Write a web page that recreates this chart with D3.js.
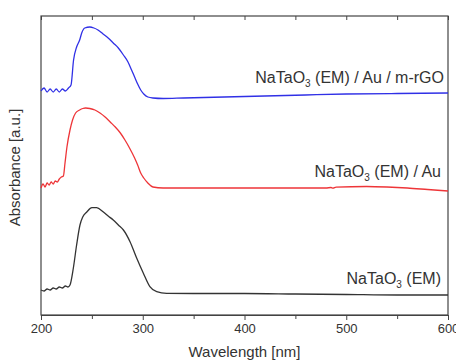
<!DOCTYPE html>
<html>
<head>
<meta charset="utf-8">
<script src="https://cdn.jsdelivr.net/npm/d3@7"></script>
<style>
  body { margin: 0; background: #fff; }
  svg { display: block; font-family: "Liberation Sans", Arial, sans-serif; }
</style>
</head>
<body>
<div id="chart"></div>
<script>
// spectra (absorbance in arbitrary, offset units)
var wlBlue = [200, 203, 206, 209, 212, 215, 218, 221, 224, 227, 229.5, 232, 235, 238, 240, 243, 248, 252, 256, 261, 266, 271, 276, 281, 285.5, 289, 292, 295, 298, 301, 305, 310, 320, 340, 360, 400, 460, 500, 550, 600];
var absBlue = [2.24, 2.27, 2.23, 2.26, 2.23, 2.26, 2.23, 2.26, 2.24, 2.27, 2.30, 2.55, 2.68, 2.75, 2.82, 2.87, 2.88, 2.87, 2.85, 2.81, 2.77, 2.72, 2.67, 2.60, 2.53, 2.45, 2.38, 2.31, 2.25, 2.21, 2.18, 2.17, 2.165, 2.17, 2.175, 2.185, 2.20, 2.21, 2.215, 2.22];

var wlRed = [200, 202, 204, 206, 208, 210, 212, 214, 216, 218, 220, 222, 223.6, 225.5, 228.5, 231, 234, 238, 241, 244, 248, 253, 258, 263, 268, 273, 278, 282.5, 287, 292, 295, 298, 301, 305, 310, 320, 400, 480, 485, 487, 490, 520, 540, 560, 580, 600];
var absRed = [1.27, 1.31, 1.28, 1.32, 1.30, 1.33, 1.31, 1.34, 1.33, 1.36, 1.38, 1.39, 1.52, 1.68, 1.85, 1.95, 2.02, 2.05, 2.065, 2.07, 2.065, 2.05, 2.02, 1.98, 1.93, 1.88, 1.82, 1.75, 1.67, 1.57, 1.50, 1.42, 1.37, 1.32, 1.28, 1.27, 1.27, 1.27, 1.275, 1.268, 1.278, 1.285, 1.28, 1.27, 1.255, 1.24];

var wlBlack = [200, 203, 206, 209, 212, 215, 218, 221, 224, 226.5, 228.5, 231.8, 235, 238.3, 241, 245, 250, 254.7, 261, 266, 271, 276, 281, 287.5, 294, 300.5, 307, 313.7, 323.5, 350, 400, 450, 500, 550, 600];
var absBlack = [0.25, 0.24, 0.26, 0.25, 0.27, 0.26, 0.28, 0.27, 0.29, 0.28, 0.30, 0.47, 0.70, 0.90, 0.98, 1.03, 1.073, 1.073, 1.033, 0.99, 0.95, 0.90, 0.85, 0.733, 0.57, 0.42, 0.283, 0.233, 0.217, 0.215, 0.215, 0.21, 0.205, 0.20, 0.20];

var seriesNames = ["NaTaO|3| (EM) / Au / m-rGO", "NaTaO|3| (EM) / Au", "NaTaO|3| (EM)"];
var seriesColors = ["#3030e6", "#ee3538", "#333333"];
var labelY = [2.32, 1.38, 0.31];   // label baseline, in data units
var labelRight = [4, 7, 7];
var xTicks = [200, 300, 400, 500, 600];
var xMinor = [250, 350, 450, 550];

var margin = { top: 16, right: 8, bottom: 47, left: 41 },
width = 456 - margin.left - margin.right,
height = 362 - margin.top - margin.bottom;

var svg = d3
.select("#chart")
.append("svg")
.attr("width", 456)
.attr("height", 362)
.append("g")
.attr("transform", "translate(" + margin.left + "," + margin.top + ")");

var x = d3.scaleLinear().domain([200, 600]).range([0, width]);
var y = d3.scaleLinear().domain([0, 2.99]).range([height, 0]);

var axisColor = "#444";

// bottom axis, ticks outward
var bottomAxis = svg.append("g")
.attr("transform", "translate(0," + height + ")")
.call(d3.axisBottom(x).tickValues(xTicks).tickSize(5).tickPadding(4).tickFormat(d3.format("d")));
bottomAxis.selectAll("text").attr("fill", "#333").style("font-size", "13px")
  .style("font-family", "'Liberation Sans', Arial, sans-serif");
svg.append("g")
.attr("transform", "translate(0," + height + ")")
.call(d3.axisBottom(x).tickValues(xMinor).tickSize(4).tickFormat(""))
.select(".domain").remove();

// top axis, ticks inward
var topAxis = svg.append("g")
.call(d3.axisBottom(x).tickValues(xTicks.concat(xMinor)).tickSize(4).tickFormat(""));
topAxis.select(".domain").remove();

svg.selectAll(".tick line").attr("stroke", axisColor);
bottomAxis.select(".domain").attr("stroke", axisColor);

// frame
svg.append("rect")
.attr("x", 0).attr("y", 0)
.attr("width", width).attr("height", height)
.attr("fill", "none")
.attr("stroke", axisColor)
.attr("stroke-width", 1.2);

// spectra
var allSeries = [
  { wl: wlBlue, abs: absBlue },
  { wl: wlRed, abs: absRed },
  { wl: wlBlack, abs: absBlack }
];

var line = d3.line()
.x(function (d) { return x(d[0]); })
.y(function (d) { return y(d[1]); })
.curve(d3.curveMonotoneX);

allSeries.forEach(function (s, i) {
  svg.append("path")
  .datum(d3.zip(s.wl, s.abs))
  .attr("fill", "none")
  .attr("stroke", seriesColors[i])
  .attr("stroke-width", 1.3)
  .attr("d", line);

  var parts = seriesNames[i].split("|");
  var t = svg.append("text")
  .attr("x", width - labelRight[i])
  .attr("y", y(labelY[i]))
  .attr("text-anchor", "end")
  .attr("fill", "#333")
  .style("font-size", "16px");
  t.append("tspan").text(parts[0]);
  t.append("tspan").attr("dy", 4).style("font-size", "10px").text(parts[1]);
  t.append("tspan").attr("dy", -4).text(parts[2]);
});

// axis titles
svg.append("text")
.attr("x", width / 2)
.attr("y", height + 42)
.attr("text-anchor", "middle")
.attr("fill", "#333")
.style("font-size", "15px")
.text("Wavelength [nm]");

svg.append("text")
.attr("transform", "rotate(-90)")
.attr("x", -height / 2 - 2)
.attr("y", -21)
.attr("text-anchor", "middle")
.attr("fill", "#333")
.style("font-size", "15px")
.text("Absorbance [a.u.]");
</script>
</body>
</html>
